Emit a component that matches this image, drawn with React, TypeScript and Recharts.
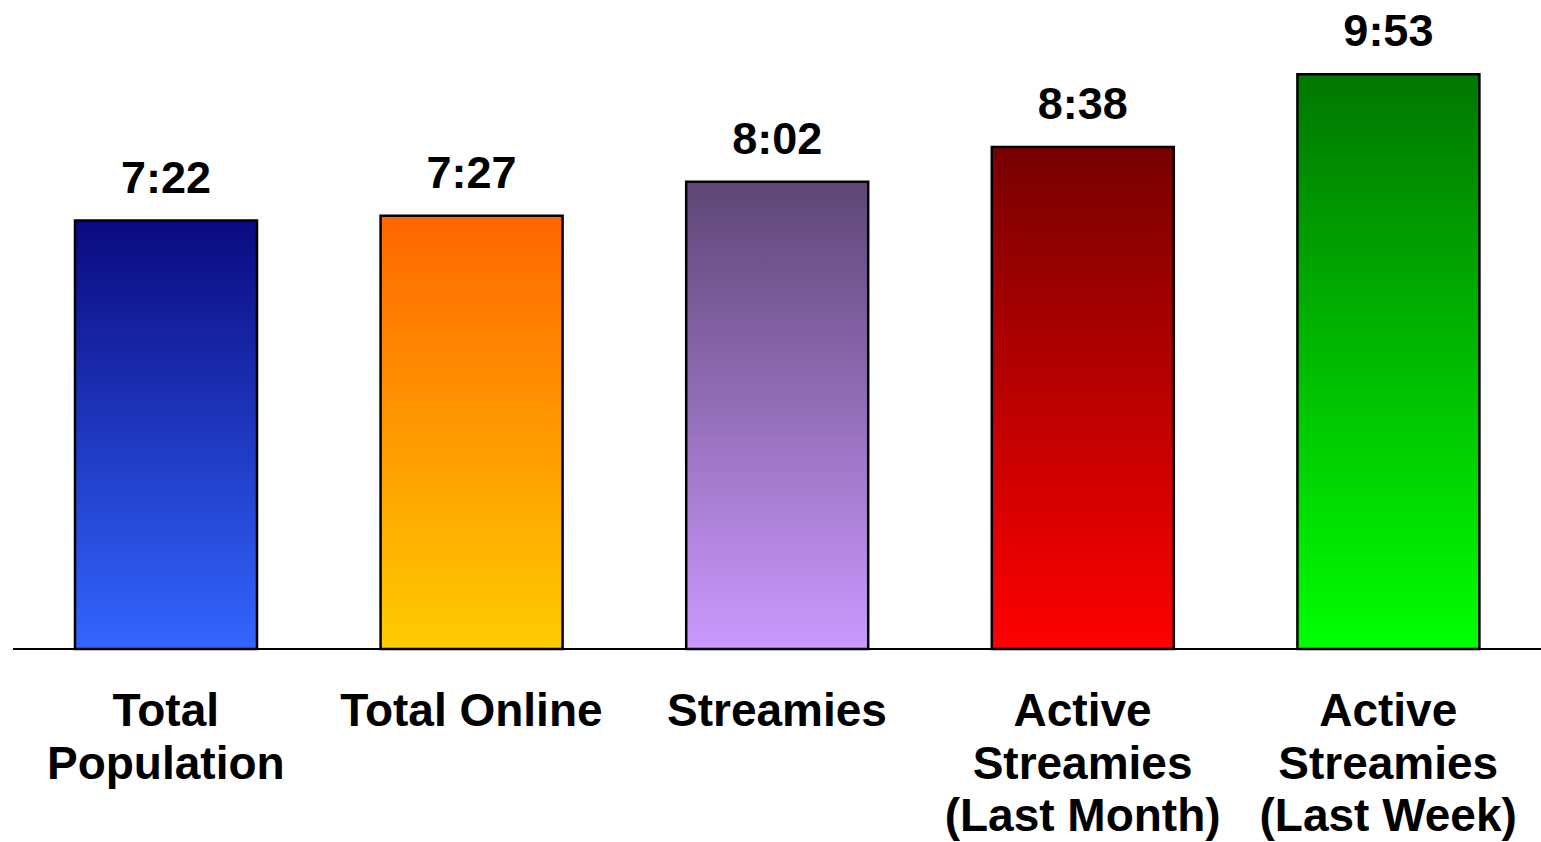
import { BarChart, Bar, XAxis, YAxis, Cell, LabelList } from 'recharts';

const categories = [
  'Total|Population',
  'Total Online',
  'Streamies',
  'Active|Streamies|(Last Month)',
  'Active|Streamies|(Last Week)',
];

// average time, in minutes (h:mm)
const minutes = [442, 447, 482, 518, 593];

const gradTop = ['#0a0a80', '#ff6600', '#5e4676', '#770000', '#007700'];
const gradBottom = ['#3366ff', '#ffcc00', '#cc99ff', '#ff0000', '#00ff00'];

const fmt = (m: number) => `${Math.floor(m / 60)}:${String(m % 60).padStart(2, '0')}`;

const data = categories.map((name, i) => ({ name, value: minutes[i] }));

const FONT = '"Liberation Sans", Arial, sans-serif';

const CategoryTick = (props: any) => {
  const { x, y, payload } = props;
  const lines = String(payload.value).split('|');
  return (
    <text
      x={x}
      y={y + 77}
      textAnchor="middle"
      fontFamily={FONT}
      fontWeight="bold"
      fontSize={46}
      fill="#000"
    >
      {lines.map((l, i) => (
        <tspan key={i} x={x} dy={i === 0 ? 0 : 52.5}>
          {l}
        </tspan>
      ))}
    </text>
  );
};

const ValueLabel = (props: any) => {
  const { x, y, width, value } = props;
  return (
    <text
      x={x + width / 2}
      y={y - 28}
      textAnchor="middle"
      fontFamily={FONT}
      fontWeight="bold"
      fontSize={45}
      fill="#000"
    >
      {fmt(value)}
    </text>
  );
};

export default function App() {
  return (
    <div style={{ position: 'absolute', left: 0, top: 0, width: 1541, height: 842, background: '#fff' }}>
      <BarChart
        width={1541}
        height={842}
        data={data}
        margin={{ top: 19, right: 0, bottom: 0, left: 13 }}
      >
        <defs>
          {gradTop.map((c, i) => (
            <linearGradient key={i} id={`g${i}`} x1="0" y1="0" x2="0" y2="1">
              <stop offset="0%" stopColor={c} />
              <stop offset="100%" stopColor={gradBottom[i]} />
            </linearGradient>
          ))}
        </defs>
        <YAxis hide domain={[0, 650]} />
        <XAxis
          dataKey="name"
          height={193}
          interval={0}
          tickLine={false}
          tickSize={0}
          tickMargin={0}
          axisLine={{ stroke: '#000', strokeWidth: 2 }}
          tick={<CategoryTick />}
        />
        <Bar dataKey="value" barSize={182} stroke="#000" strokeWidth={2.5} isAnimationActive={false}>
          {data.map((_, i) => (
            <Cell key={i} fill={`url(#g${i})`} />
          ))}
          <LabelList dataKey="value" content={<ValueLabel />} />
        </Bar>
      </BarChart>
    </div>
  );
}
